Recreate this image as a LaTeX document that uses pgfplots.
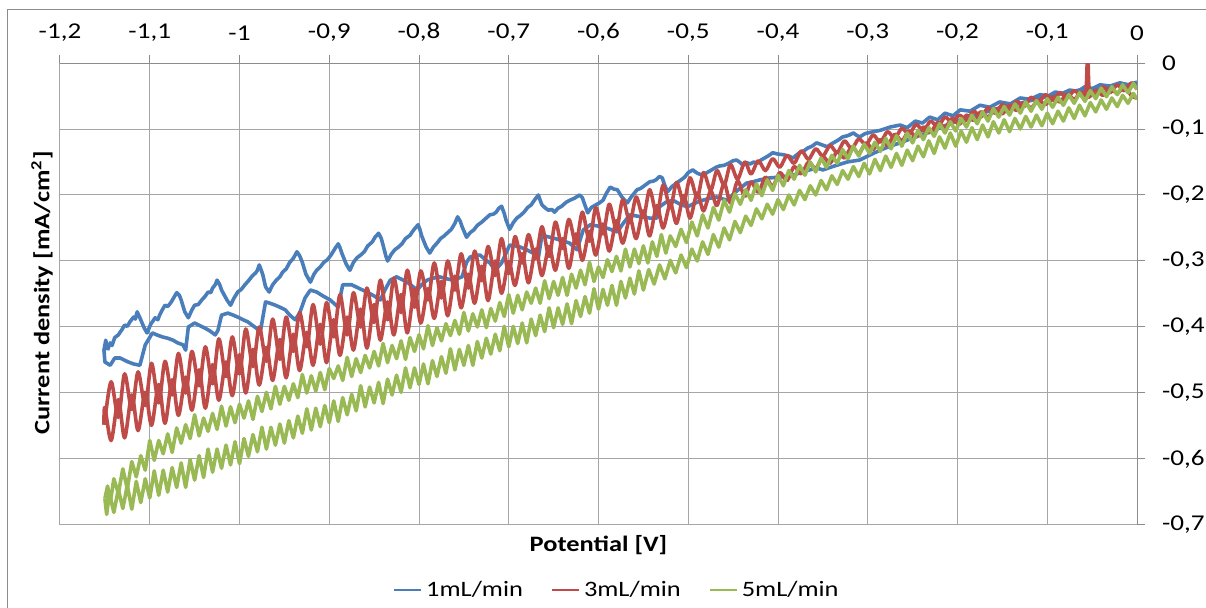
\documentclass[border=0pt]{standalone}
\usepackage{fontspec}
\setmainfont{Carlito}[FakeStretch=1.2]
\usepackage{pgfplots}
\pgfplotsset{compat=1.18}
\definecolor{flowA}{HTML}{4A7EBB}
\definecolor{flowB}{HTML}{BE4B48}
\definecolor{flowC}{HTML}{98B954}

\begin{document}
\begin{tikzpicture}
\useasboundingbox (0,0) rectangle (603pt,304pt);
\draw[black!45, line width=0.5pt] (3.5pt,-10pt) rectangle (620pt,299pt);
\begin{axis}[
  at={(30pt,41.5pt)}, anchor=south west,
  scale only axis, width=538.5pt, height=231pt,
  xmin=-1.2, xmax=0, ymin=-0.7, ymax=0,
  xtick={-1.2,-1.1,-1,-0.9,-0.8,-0.7,-0.6,-0.5,-0.4,-0.3,-0.2,-0.1,0},
  ytick={-0.7,-0.6,-0.5,-0.4,-0.3,-0.2,-0.1,0},
  axis x line*=top, axis y line*=right,
  grid=major,
  major grid style={black!35, line width=0.5pt},
  axis line style={black!45, line width=0.5pt},
  tick style={black!45, line width=0.5pt},
  tick align=outside, major tick length=4pt,
  font=\fontsize{11.3}{13}\selectfont,
  /pgf/number format/use comma,
  /pgf/number format/assume math mode=true,
  xticklabel style={anchor=south, yshift=3.5pt},
  yticklabel style={anchor=west, xshift=5pt},
  xlabel={Potential [V]},
  ylabel={Current density [mA/cm\textsuperscript{2}]},
  every axis x label/.style={at={(axis description cs:0.5,-0.043)}, anchor=center, font=\fontsize{11}{13}\selectfont\bfseries},
  every axis y label/.style={at={(axis description cs:-0.0167,0.502)}, rotate=90, anchor=center, font=\fontsize{11}{13}\selectfont\bfseries},
  legend columns=3,
  legend style={at={(axis description cs:0.518,-0.141)}, anchor=center, draw=none, fill=none,
    font=\fontsize{11}{13}\selectfont,
    /tikz/every even column/.append style={column sep=12pt}},
  legend image code/.code={\draw[#1, line width=1pt] (0pt,0pt) -- (13.5pt,0pt);},
  every axis plot/.append style={line width=1.8pt, line join=round},
]
% 1 mL/min, cathodic and anodic branches
\addplot[flowA] coordinates {
(-1.147,-0.435) (-1.144,-0.424) (-1.142,-0.428) (-1.139,-0.416) (-1.135,-0.412) (-1.131,-0.404) (-1.128,-0.397) (-1.125,-0.399) (-1.122,-0.392) (-1.118,-0.385) (-1.116,-0.388) (-1.114,-0.377) (-1.111,-0.386) (-1.106,-0.402) (-1.103,-0.409) (-1.099,-0.396) (-1.094,-0.386) (-1.091,-0.389) (-1.089,-0.382) (-1.086,-0.374) (-1.083,-0.367) (-1.080,-0.369) (-1.076,-0.362) (-1.073,-0.355) (-1.070,-0.348) (-1.067,-0.352) (-1.065,-0.359) (-1.061,-0.377) (-1.057,-0.386) (-1.053,-0.374) (-1.050,-0.367) (-1.046,-0.366) (-1.042,-0.359) (-1.038,-0.353) (-1.035,-0.347) (-1.032,-0.348) (-1.030,-0.341) (-1.027,-0.336) (-1.025,-0.329) (-1.022,-0.336) (-1.020,-0.344) (-1.014,-0.359) (-1.010,-0.367) (-1.006,-0.356) (-1.002,-0.347) (-0.998,-0.343) (-0.994,-0.336) (-0.990,-0.330) (-0.986,-0.323) (-0.982,-0.318) (-0.980,-0.314) (-0.978,-0.306) (-0.976,-0.313) (-0.974,-0.321) (-0.971,-0.339) (-0.967,-0.347) (-0.963,-0.336) (-0.959,-0.329) (-0.955,-0.324) (-0.952,-0.317) (-0.948,-0.312) (-0.944,-0.302) (-0.940,-0.296) (-0.936,-0.286) (-0.933,-0.292) (-0.930,-0.302) (-0.926,-0.320) (-0.921,-0.332) (-0.917,-0.320) (-0.914,-0.314) (-0.910,-0.309) (-0.906,-0.302) (-0.902,-0.298) (-0.898,-0.291) (-0.894,-0.282) (-0.890,-0.274) (-0.888,-0.280) (-0.886,-0.288) (-0.881,-0.305) (-0.877,-0.314) (-0.873,-0.302) (-0.869,-0.295) (-0.865,-0.291) (-0.861,-0.286) (-0.857,-0.277) (-0.852,-0.271) (-0.849,-0.264) (-0.845,-0.258) (-0.842,-0.266) (-0.840,-0.276) (-0.837,-0.292) (-0.835,-0.300) (-0.831,-0.290) (-0.827,-0.283) (-0.823,-0.279) (-0.819,-0.274) (-0.815,-0.266) (-0.810,-0.261) (-0.806,-0.253) (-0.801,-0.245) (-0.799,-0.252) (-0.797,-0.262) (-0.792,-0.279) (-0.788,-0.288) (-0.784,-0.279) (-0.780,-0.273) (-0.776,-0.266) (-0.772,-0.262) (-0.768,-0.257) (-0.764,-0.252) (-0.760,-0.243) (-0.757,-0.233) (-0.754,-0.240) (-0.752,-0.248) (-0.747,-0.264) (-0.743,-0.257) (-0.739,-0.253) (-0.735,-0.246) (-0.730,-0.241) (-0.726,-0.236) (-0.721,-0.230) (-0.717,-0.229) (-0.714,-0.226) (-0.711,-0.220) (-0.708,-0.217) (-0.705,-0.228) (-0.703,-0.238) (-0.699,-0.252) (-0.695,-0.242) (-0.691,-0.235) (-0.687,-0.231) (-0.683,-0.226) (-0.679,-0.219) (-0.675,-0.215) (-0.671,-0.207) (-0.667,-0.200) (-0.665,-0.208) (-0.663,-0.215) (-0.659,-0.220) (-0.656,-0.223) (-0.652,-0.222) (-0.649,-0.226) (-0.645,-0.220) (-0.641,-0.217) (-0.636,-0.211) (-0.632,-0.208) (-0.627,-0.205) (-0.621,-0.200) (-0.618,-0.204) (-0.616,-0.212) (-0.612,-0.227) (-0.608,-0.219) (-0.603,-0.215) (-0.599,-0.212) (-0.595,-0.208) (-0.591,-0.197) (-0.587,-0.188) (-0.583,-0.191) (-0.579,-0.192) (-0.574,-0.203) (-0.568,-0.212) (-0.565,-0.206) (-0.563,-0.202) (-0.560,-0.197) (-0.557,-0.192) (-0.553,-0.190) (-0.549,-0.186) (-0.546,-0.183) (-0.543,-0.180) (-0.539,-0.179) (-0.536,-0.177) (-0.532,-0.172) (-0.529,-0.174) (-0.526,-0.186) (-0.523,-0.195) (-0.518,-0.187) (-0.513,-0.182) (-0.509,-0.178) (-0.504,-0.173) (-0.500,-0.166) (-0.495,-0.162) (-0.490,-0.167) (-0.484,-0.170) (-0.479,-0.166) (-0.474,-0.162) (-0.469,-0.158) (-0.465,-0.156) (-0.460,-0.155) (-0.455,-0.152) (-0.450,-0.148) (-0.446,-0.147) (-0.442,-0.151) (-0.439,-0.155) (-0.435,-0.151) (-0.431,-0.153) (-0.427,-0.150) (-0.423,-0.152) (-0.419,-0.147) (-0.415,-0.144) (-0.410,-0.140) (-0.406,-0.136) (-0.400,-0.138) (-0.394,-0.139) (-0.388,-0.141) (-0.383,-0.144) (-0.379,-0.139) (-0.376,-0.136) (-0.371,-0.133) (-0.367,-0.129) (-0.362,-0.126) (-0.357,-0.121) (-0.351,-0.124) (-0.345,-0.127) (-0.341,-0.123) (-0.337,-0.120) (-0.332,-0.116) (-0.328,-0.112) (-0.322,-0.110) (-0.316,-0.106) (-0.312,-0.110) (-0.309,-0.112) (-0.303,-0.107) (-0.297,-0.105) (-0.286,-0.102) (-0.275,-0.097) (-0.264,-0.094) (-0.256,-0.098) (-0.247,-0.088) (-0.239,-0.091) (-0.231,-0.082) (-0.222,-0.086) (-0.214,-0.076) (-0.205,-0.080) (-0.197,-0.071) (-0.186,-0.073) (-0.175,-0.064) (-0.164,-0.067) (-0.153,-0.059) (-0.141,-0.062) (-0.130,-0.053) (-0.119,-0.055) (-0.108,-0.048) (-0.099,-0.050) (-0.091,-0.044) (-0.083,-0.046) (-0.075,-0.041) (-0.066,-0.043) (-0.058,-0.036) (-0.050,-0.039) (-0.041,-0.033) (-0.030,-0.035) (-0.019,-0.030) (-0.010,-0.033) (0.000,-0.029)
};
\addplot[flowA, forget plot] coordinates {
(-1.147,-0.435) (-1.149,-0.420) (-1.151,-0.435) (-1.150,-0.453) (-1.144,-0.458) (-1.139,-0.447) (-1.133,-0.447) (-1.124,-0.453) (-1.118,-0.456) (-1.111,-0.458) (-1.105,-0.427) (-1.097,-0.409) (-1.092,-0.412) (-1.086,-0.415) (-1.080,-0.417) (-1.074,-0.420) (-1.069,-0.424) (-1.063,-0.427) (-1.060,-0.435) (-1.057,-0.400) (-1.050,-0.394) (-1.044,-0.398) (-1.038,-0.402) (-1.033,-0.406) (-1.027,-0.412) (-1.024,-0.405) (-1.020,-0.382) (-1.013,-0.379) (-1.007,-0.382) (-1.002,-0.385) (-0.996,-0.389) (-0.991,-0.392) (-0.985,-0.398) (-0.981,-0.402) (-0.977,-0.409) (-0.971,-0.362) (-0.966,-0.364) (-0.960,-0.367) (-0.955,-0.370) (-0.949,-0.374) (-0.944,-0.382) (-0.938,-0.389) (-0.933,-0.379) (-0.927,-0.356) (-0.921,-0.344) (-0.914,-0.347) (-0.907,-0.353) (-0.899,-0.359) (-0.890,-0.370) (-0.885,-0.336) (-0.875,-0.336) (-0.866,-0.342) (-0.858,-0.347) (-0.850,-0.353) (-0.843,-0.359) (-0.838,-0.344) (-0.832,-0.329) (-0.825,-0.324) (-0.813,-0.332) (-0.802,-0.344) (-0.797,-0.336) (-0.791,-0.329) (-0.784,-0.326) (-0.777,-0.324) (-0.769,-0.327) (-0.762,-0.329) (-0.752,-0.324) (-0.747,-0.302) (-0.743,-0.294) (-0.738,-0.292) (-0.732,-0.291) (-0.726,-0.298) (-0.721,-0.303) (-0.715,-0.314) (-0.708,-0.303) (-0.699,-0.276) (-0.693,-0.277) (-0.687,-0.279) (-0.680,-0.283) (-0.673,-0.288) (-0.667,-0.295) (-0.663,-0.261) (-0.654,-0.264) (-0.643,-0.268) (-0.632,-0.273) (-0.624,-0.283) (-0.617,-0.253) (-0.609,-0.245) (-0.601,-0.247) (-0.591,-0.250) (-0.579,-0.256) (-0.573,-0.244) (-0.565,-0.230) (-0.557,-0.232) (-0.550,-0.233) (-0.543,-0.235) (-0.535,-0.235) (-0.532,-0.218) (-0.525,-0.211) (-0.517,-0.208) (-0.509,-0.214) (-0.501,-0.218) (-0.492,-0.212) (-0.484,-0.208) (-0.476,-0.205) (-0.468,-0.203) (-0.457,-0.208) (-0.446,-0.194) (-0.435,-0.182) (-0.428,-0.180) (-0.420,-0.177) (-0.409,-0.174) (-0.398,-0.173) (-0.383,-0.170) (-0.370,-0.164) (-0.357,-0.159) (-0.350,-0.162) (-0.337,-0.156) (-0.323,-0.150) (-0.309,-0.147) (-0.297,-0.139) (-0.286,-0.132) (-0.275,-0.126) (-0.264,-0.121) (-0.247,-0.112) (-0.231,-0.105) (-0.214,-0.095) (-0.197,-0.086) (-0.175,-0.077) (-0.153,-0.068) (-0.130,-0.061) (-0.108,-0.053) (-0.086,-0.047) (-0.064,-0.041) (-0.047,-0.038) (-0.030,-0.035) (-0.013,-0.033) (0.000,-0.033)
};
% 3 mL/min
\addplot[flowB, smooth] coordinates {
(-1.151,-0.548) (-1.150,-0.540) (-1.143,-0.483) (-1.135,-0.537) (-1.128,-0.471) (-1.120,-0.525) (-1.113,-0.468) (-1.105,-0.519) (-1.098,-0.455) (-1.090,-0.515) (-1.083,-0.452) (-1.075,-0.503) (-1.068,-0.440) (-1.060,-0.500) (-1.053,-0.437) (-1.045,-0.489) (-1.038,-0.430) (-1.030,-0.486) (-1.023,-0.418) (-1.015,-0.475) (-1.008,-0.415) (-1.000,-0.471) (-0.993,-0.403) (-0.985,-0.460) (-0.978,-0.400) (-0.970,-0.452) (-0.963,-0.388) (-0.955,-0.449) (-0.948,-0.385) (-0.940,-0.437) (-0.933,-0.378) (-0.925,-0.430) (-0.918,-0.366) (-0.910,-0.426) (-0.903,-0.363) (-0.895,-0.415) (-0.888,-0.351) (-0.880,-0.412) (-0.873,-0.348) (-0.865,-0.400) (-0.858,-0.341) (-0.850,-0.393) (-0.843,-0.329) (-0.835,-0.389) (-0.828,-0.326) (-0.820,-0.378) (-0.813,-0.314) (-0.805,-0.370) (-0.798,-0.315) (-0.790,-0.359) (-0.783,-0.303) (-0.775,-0.356) (-0.768,-0.300) (-0.760,-0.344) (-0.753,-0.289) (-0.745,-0.341) (-0.738,-0.285) (-0.730,-0.330) (-0.723,-0.278) (-0.715,-0.322) (-0.708,-0.266) (-0.700,-0.319) (-0.693,-0.263) (-0.685,-0.303) (-0.678,-0.260) (-0.670,-0.296) (-0.663,-0.248) (-0.655,-0.293) (-0.648,-0.241) (-0.640,-0.281) (-0.633,-0.237) (-0.625,-0.274) (-0.618,-0.226) (-0.610,-0.270) (-0.603,-0.219) (-0.595,-0.259) (-0.588,-0.214) (-0.580,-0.252) (-0.573,-0.207) (-0.565,-0.241) (-0.558,-0.203) (-0.550,-0.234) (-0.543,-0.192) (-0.535,-0.230) (-0.528,-0.185) (-0.520,-0.219) (-0.513,-0.181) (-0.505,-0.211) (-0.498,-0.174) (-0.490,-0.204) (-0.483,-0.166) (-0.475,-0.193) (-0.468,-0.163) (-0.460,-0.185) (-0.453,-0.154) (-0.445,-0.176) (-0.437,-0.150) (-0.430,-0.168) (-0.422,-0.148) (-0.414,-0.163) (-0.406,-0.145) (-0.398,-0.158) (-0.390,-0.140) (-0.382,-0.152) (-0.374,-0.133) (-0.366,-0.146) (-0.358,-0.130) (-0.350,-0.141) (-0.342,-0.125) (-0.334,-0.136) (-0.326,-0.118) (-0.318,-0.130) (-0.310,-0.115) (-0.302,-0.124) (-0.294,-0.109) (-0.286,-0.120) (-0.278,-0.104) (-0.270,-0.114) (-0.262,-0.099) (-0.254,-0.108) (-0.246,-0.093) (-0.238,-0.103) (-0.230,-0.088) (-0.222,-0.097) (-0.214,-0.082) (-0.206,-0.090) (-0.198,-0.079) (-0.190,-0.087) (-0.182,-0.073) (-0.174,-0.082) (-0.166,-0.068) (-0.158,-0.076) (-0.150,-0.063) (-0.142,-0.071) (-0.134,-0.058) (-0.126,-0.066) (-0.118,-0.052) (-0.110,-0.060) (-0.102,-0.048) (-0.094,-0.057) (-0.086,-0.045) (-0.078,-0.053) (-0.070,-0.042) (-0.062,-0.050) (-0.057,-0.043) (-0.0555,-0.001) (-0.0545,-0.001) (-0.053,-0.042) (-0.046,-0.048) (-0.038,-0.036) (-0.030,-0.045) (-0.022,-0.033) (-0.014,-0.042) (-0.006,-0.030) (0.000,-0.040)
};
\addplot[flowB, smooth, forget plot] coordinates {
(-1.151,-0.548) (-1.150,-0.522) (-1.143,-0.572) (-1.135,-0.510) (-1.128,-0.568) (-1.120,-0.503) (-1.113,-0.557) (-1.105,-0.499) (-1.098,-0.549) (-1.090,-0.487) (-1.083,-0.546) (-1.075,-0.480) (-1.068,-0.534) (-1.060,-0.476) (-1.053,-0.526) (-1.045,-0.465) (-1.038,-0.523) (-1.030,-0.457) (-1.023,-0.511) (-1.015,-0.453) (-1.008,-0.504) (-1.000,-0.442) (-0.993,-0.500) (-0.985,-0.434) (-0.978,-0.488) (-0.970,-0.431) (-0.963,-0.481) (-0.955,-0.419) (-0.948,-0.477) (-0.940,-0.411) (-0.933,-0.466) (-0.925,-0.408) (-0.918,-0.458) (-0.910,-0.396) (-0.903,-0.454) (-0.895,-0.389) (-0.888,-0.443) (-0.880,-0.385) (-0.873,-0.435) (-0.865,-0.373) (-0.858,-0.432) (-0.850,-0.366) (-0.843,-0.420) (-0.835,-0.362) (-0.828,-0.412) (-0.820,-0.351) (-0.813,-0.409) (-0.805,-0.343) (-0.798,-0.394) (-0.790,-0.342) (-0.783,-0.387) (-0.775,-0.331) (-0.768,-0.383) (-0.760,-0.323) (-0.753,-0.371) (-0.745,-0.320) (-0.738,-0.364) (-0.730,-0.308) (-0.723,-0.360) (-0.715,-0.300) (-0.708,-0.349) (-0.700,-0.301) (-0.693,-0.337) (-0.685,-0.289) (-0.678,-0.333) (-0.670,-0.282) (-0.663,-0.322) (-0.655,-0.278) (-0.648,-0.314) (-0.640,-0.266) (-0.633,-0.311) (-0.625,-0.259) (-0.618,-0.299) (-0.610,-0.255) (-0.603,-0.291) (-0.595,-0.244) (-0.588,-0.285) (-0.580,-0.239) (-0.573,-0.273) (-0.565,-0.235) (-0.558,-0.266) (-0.550,-0.224) (-0.543,-0.262) (-0.535,-0.216) (-0.528,-0.250) (-0.520,-0.213) (-0.513,-0.243) (-0.505,-0.201) (-0.498,-0.235) (-0.490,-0.197) (-0.483,-0.224) (-0.475,-0.194) (-0.468,-0.216) (-0.460,-0.182) (-0.453,-0.212) (-0.445,-0.179) (-0.437,-0.202) (-0.430,-0.180) (-0.422,-0.196) (-0.414,-0.173) (-0.406,-0.187) (-0.398,-0.166) (-0.390,-0.178) (-0.382,-0.157) (-0.374,-0.168) (-0.366,-0.150) (-0.358,-0.160) (-0.350,-0.142) (-0.342,-0.152) (-0.334,-0.134) (-0.326,-0.144) (-0.318,-0.127) (-0.310,-0.137) (-0.302,-0.121) (-0.294,-0.131) (-0.286,-0.116) (-0.278,-0.125) (-0.270,-0.108) (-0.262,-0.118) (-0.254,-0.103) (-0.246,-0.112) (-0.238,-0.097) (-0.230,-0.105) (-0.222,-0.090) (-0.214,-0.098) (-0.206,-0.084) (-0.198,-0.093) (-0.190,-0.079) (-0.182,-0.087) (-0.174,-0.074) (-0.166,-0.082) (-0.158,-0.069) (-0.150,-0.077) (-0.142,-0.064) (-0.134,-0.072) (-0.126,-0.060) (-0.118,-0.068) (-0.110,-0.056) (-0.102,-0.063) (-0.094,-0.051) (-0.086,-0.059) (-0.078,-0.047) (-0.070,-0.055) (-0.062,-0.044) (-0.054,-0.052) (-0.046,-0.041) (-0.038,-0.049) (-0.030,-0.038) (-0.022,-0.046) (-0.014,-0.036) (-0.006,-0.050) (0.000,-0.053)
};
% 5 mL/min
\addplot[flowC] coordinates {
(-1.150,-0.660) (-1.147,-0.641) (-1.144,-0.666) (-1.140,-0.630) (-1.135,-0.652) (-1.130,-0.615) (-1.125,-0.645) (-1.120,-0.604) (-1.115,-0.627) (-1.110,-0.595) (-1.105,-0.617) (-1.100,-0.572) (-1.095,-0.602) (-1.090,-0.572) (-1.085,-0.592) (-1.080,-0.562) (-1.075,-0.590) (-1.070,-0.553) (-1.065,-0.576) (-1.060,-0.548) (-1.055,-0.569) (-1.050,-0.533) (-1.045,-0.565) (-1.040,-0.538) (-1.035,-0.558) (-1.030,-0.531) (-1.025,-0.555) (-1.020,-0.520) (-1.015,-0.550) (-1.010,-0.521) (-1.005,-0.545) (-1.000,-0.517) (-0.995,-0.538) (-0.990,-0.512) (-0.985,-0.540) (-0.980,-0.505) (-0.975,-0.528) (-0.970,-0.499) (-0.965,-0.524) (-0.960,-0.490) (-0.955,-0.517) (-0.950,-0.490) (-0.945,-0.511) (-0.940,-0.486) (-0.935,-0.507) (-0.930,-0.472) (-0.925,-0.500) (-0.920,-0.474) (-0.915,-0.497) (-0.910,-0.469) (-0.905,-0.495) (-0.900,-0.463) (-0.895,-0.478) (-0.890,-0.459) (-0.885,-0.481) (-0.880,-0.446) (-0.875,-0.475) (-0.870,-0.448) (-0.865,-0.469) (-0.860,-0.443) (-0.855,-0.462) (-0.850,-0.437) (-0.845,-0.459) (-0.840,-0.425) (-0.835,-0.454) (-0.830,-0.428) (-0.825,-0.448) (-0.820,-0.421) (-0.815,-0.449) (-0.810,-0.416) (-0.805,-0.437) (-0.800,-0.412) (-0.795,-0.433) (-0.790,-0.398) (-0.785,-0.428) (-0.780,-0.401) (-0.775,-0.421) (-0.770,-0.395) (-0.765,-0.413) (-0.760,-0.390) (-0.755,-0.411) (-0.750,-0.378) (-0.745,-0.406) (-0.740,-0.380) (-0.735,-0.400) (-0.730,-0.374) (-0.725,-0.401) (-0.720,-0.372) (-0.715,-0.391) (-0.710,-0.363) (-0.705,-0.384) (-0.700,-0.351) (-0.695,-0.379) (-0.690,-0.352) (-0.685,-0.374) (-0.680,-0.347) (-0.675,-0.364) (-0.670,-0.341) (-0.665,-0.364) (-0.660,-0.330) (-0.655,-0.357) (-0.650,-0.331) (-0.645,-0.352) (-0.640,-0.325) (-0.635,-0.352) (-0.630,-0.320) (-0.625,-0.341) (-0.620,-0.314) (-0.615,-0.336) (-0.610,-0.302) (-0.605,-0.331) (-0.600,-0.309) (-0.595,-0.325) (-0.590,-0.298) (-0.585,-0.316) (-0.580,-0.293) (-0.575,-0.315) (-0.570,-0.282) (-0.565,-0.309) (-0.560,-0.282) (-0.555,-0.304) (-0.550,-0.277) (-0.545,-0.303) (-0.540,-0.271) (-0.535,-0.293) (-0.530,-0.260) (-0.525,-0.288) (-0.520,-0.262) (-0.514,-0.278) (-0.508,-0.252) (-0.502,-0.272) (-0.496,-0.241) (-0.490,-0.262) (-0.484,-0.230) (-0.478,-0.250) (-0.472,-0.219) (-0.466,-0.238) (-0.460,-0.208) (-0.454,-0.226) (-0.448,-0.198) (-0.442,-0.214) (-0.436,-0.192) (-0.430,-0.208) (-0.424,-0.183) (-0.418,-0.201) (-0.412,-0.177) (-0.406,-0.193) (-0.400,-0.170) (-0.394,-0.186) (-0.388,-0.163) (-0.382,-0.176) (-0.376,-0.155) (-0.370,-0.170) (-0.364,-0.150) (-0.358,-0.165) (-0.352,-0.144) (-0.346,-0.158) (-0.340,-0.140) (-0.334,-0.152) (-0.328,-0.131) (-0.322,-0.145) (-0.316,-0.126) (-0.310,-0.141) (-0.304,-0.123) (-0.298,-0.137) (-0.292,-0.120) (-0.286,-0.134) (-0.280,-0.114) (-0.274,-0.130) (-0.268,-0.110) (-0.262,-0.126) (-0.256,-0.106) (-0.250,-0.121) (-0.244,-0.102) (-0.238,-0.116) (-0.232,-0.098) (-0.226,-0.111) (-0.220,-0.092) (-0.214,-0.106) (-0.208,-0.089) (-0.202,-0.103) (-0.196,-0.084) (-0.190,-0.097) (-0.184,-0.079) (-0.178,-0.092) (-0.172,-0.074) (-0.166,-0.088) (-0.160,-0.069) (-0.154,-0.082) (-0.148,-0.066) (-0.142,-0.079) (-0.136,-0.062) (-0.130,-0.076) (-0.124,-0.059) (-0.118,-0.073) (-0.112,-0.057) (-0.106,-0.070) (-0.100,-0.054) (-0.094,-0.067) (-0.088,-0.052) (-0.082,-0.064) (-0.076,-0.048) (-0.070,-0.061) (-0.064,-0.045) (-0.058,-0.058) (-0.052,-0.042) (-0.046,-0.054) (-0.040,-0.038) (-0.034,-0.051) (-0.028,-0.036) (-0.022,-0.048) (-0.016,-0.033) (-0.010,-0.045) (-0.004,-0.031) (0.000,-0.040)
};
\addplot[flowC, forget plot] coordinates {
(-1.150,-0.660) (-1.148,-0.684) (-1.145,-0.652) (-1.140,-0.681) (-1.135,-0.646) (-1.130,-0.675) (-1.125,-0.640) (-1.120,-0.676) (-1.115,-0.634) (-1.110,-0.666) (-1.105,-0.630) (-1.100,-0.659) (-1.095,-0.618) (-1.090,-0.655) (-1.085,-0.617) (-1.080,-0.650) (-1.075,-0.613) (-1.070,-0.643) (-1.065,-0.606) (-1.060,-0.643) (-1.055,-0.601) (-1.050,-0.632) (-1.045,-0.595) (-1.040,-0.628) (-1.035,-0.585) (-1.030,-0.620) (-1.025,-0.585) (-1.020,-0.614) (-1.015,-0.579) (-1.010,-0.609) (-1.005,-0.574) (-1.000,-0.607) (-0.995,-0.569) (-0.990,-0.596) (-0.985,-0.563) (-0.980,-0.589) (-0.975,-0.552) (-0.970,-0.585) (-0.965,-0.552) (-0.960,-0.579) (-0.955,-0.547) (-0.950,-0.576) (-0.945,-0.542) (-0.940,-0.568) (-0.935,-0.535) (-0.930,-0.561) (-0.925,-0.524) (-0.920,-0.556) (-0.915,-0.523) (-0.910,-0.551) (-0.905,-0.519) (-0.900,-0.545) (-0.895,-0.512) (-0.890,-0.543) (-0.885,-0.507) (-0.880,-0.533) (-0.875,-0.502) (-0.870,-0.527) (-0.865,-0.489) (-0.860,-0.521) (-0.855,-0.491) (-0.850,-0.515) (-0.845,-0.484) (-0.840,-0.516) (-0.835,-0.479) (-0.830,-0.503) (-0.825,-0.473) (-0.820,-0.499) (-0.815,-0.462) (-0.810,-0.492) (-0.805,-0.462) (-0.800,-0.487) (-0.795,-0.456) (-0.790,-0.486) (-0.785,-0.451) (-0.780,-0.475) (-0.775,-0.445) (-0.770,-0.470) (-0.765,-0.433) (-0.760,-0.465) (-0.755,-0.434) (-0.750,-0.458) (-0.745,-0.428) (-0.740,-0.458) (-0.735,-0.422) (-0.730,-0.447) (-0.725,-0.417) (-0.720,-0.441) (-0.715,-0.411) (-0.710,-0.436) (-0.705,-0.399) (-0.700,-0.430) (-0.695,-0.399) (-0.690,-0.425) (-0.685,-0.394) (-0.680,-0.424) (-0.675,-0.388) (-0.670,-0.413) (-0.665,-0.382) (-0.660,-0.407) (-0.655,-0.371) (-0.650,-0.401) (-0.645,-0.371) (-0.640,-0.396) (-0.635,-0.365) (-0.630,-0.395) (-0.625,-0.360) (-0.620,-0.384) (-0.615,-0.354) (-0.610,-0.379) (-0.605,-0.342) (-0.600,-0.373) (-0.595,-0.343) (-0.590,-0.367) (-0.585,-0.337) (-0.580,-0.367) (-0.575,-0.331) (-0.570,-0.356) (-0.565,-0.326) (-0.560,-0.350) (-0.555,-0.315) (-0.550,-0.344) (-0.544,-0.313) (-0.538,-0.335) (-0.532,-0.306) (-0.526,-0.327) (-0.520,-0.299) (-0.514,-0.318) (-0.508,-0.291) (-0.502,-0.310) (-0.496,-0.282) (-0.490,-0.300) (-0.484,-0.271) (-0.478,-0.290) (-0.472,-0.260) (-0.466,-0.279) (-0.460,-0.250) (-0.454,-0.268) (-0.448,-0.240) (-0.442,-0.257) (-0.436,-0.232) (-0.430,-0.246) (-0.424,-0.221) (-0.418,-0.236) (-0.412,-0.214) (-0.406,-0.229) (-0.400,-0.207) (-0.394,-0.222) (-0.388,-0.200) (-0.382,-0.215) (-0.376,-0.193) (-0.370,-0.207) (-0.364,-0.186) (-0.358,-0.200) (-0.352,-0.178) (-0.346,-0.192) (-0.340,-0.171) (-0.334,-0.184) (-0.328,-0.163) (-0.322,-0.176) (-0.316,-0.157) (-0.310,-0.172) (-0.304,-0.152) (-0.298,-0.168) (-0.292,-0.146) (-0.286,-0.163) (-0.280,-0.141) (-0.274,-0.158) (-0.268,-0.137) (-0.262,-0.155) (-0.256,-0.132) (-0.250,-0.148) (-0.244,-0.126) (-0.238,-0.142) (-0.232,-0.118) (-0.226,-0.137) (-0.220,-0.112) (-0.214,-0.129) (-0.208,-0.106) (-0.202,-0.126) (-0.196,-0.103) (-0.190,-0.120) (-0.184,-0.098) (-0.178,-0.116) (-0.172,-0.094) (-0.166,-0.112) (-0.160,-0.089) (-0.154,-0.106) (-0.148,-0.086) (-0.142,-0.104) (-0.136,-0.084) (-0.130,-0.100) (-0.124,-0.081) (-0.118,-0.097) (-0.112,-0.079) (-0.106,-0.095) (-0.100,-0.076) (-0.094,-0.092) (-0.088,-0.073) (-0.082,-0.088) (-0.076,-0.068) (-0.070,-0.084) (-0.064,-0.064) (-0.058,-0.080) (-0.052,-0.060) (-0.046,-0.074) (-0.040,-0.056) (-0.034,-0.070) (-0.028,-0.053) (-0.022,-0.066) (-0.016,-0.049) (-0.010,-0.061) (-0.004,-0.046) (0.000,-0.055)
};
\legend{1mL/min,3mL/min,5mL/min}
\end{axis}
\end{tikzpicture}
\end{document}
